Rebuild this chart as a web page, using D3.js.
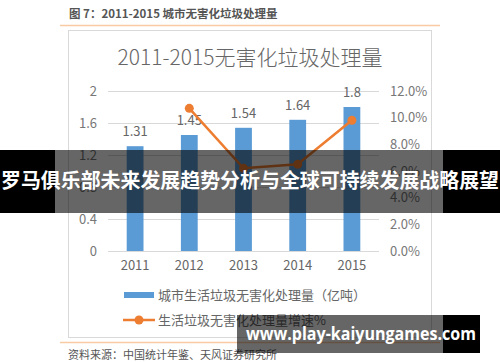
<!DOCTYPE html>
<html><head><meta charset="utf-8">
<script src="https://cdn.jsdelivr.net/npm/d3@7"></script>
<style>body{margin:0;background:#fff}svg{display:block}</style>
</head><body>
<svg id="c" width="500" height="362"></svg>
<script>
const years = ["2011","2012","2013","2014","2015"];
const amount = [1.31, 1.45, 1.54, 1.64, 1.8];
const growth = [null, 10.7, 6.2, 6.5, 9.8];
const leftTicks = [0, 0.4, 0.8, 1.2, 1.6, 2];
const rightTicks = [0, 2, 4, 6, 8, 10, 12];
const header = "图 7：2011-2015 城市无害化垃圾处理量";
const title = "2011-2015无害化垃圾处理量";
const legendNames = ["城市生活垃圾无害化处理量（亿吨）", "生活垃圾无害化处理量增速%"];
const source = "资料来源：中国统计年鉴、天风证券研究所";
const banner = "罗马俱乐部未来发展趋势分析与全球可持续发展战略展望";
const watermark = "www.play-kaiyungames.com";

const svg = d3.select("#c");
const font = "'Noto Sans CJK SC','Noto Sans',sans-serif";
const txt = "#595959";

svg.append("text").attr("x",69).attr("y",18).attr("font-family",font).attr("font-size",11.5)
  .attr("font-weight","bold").attr("fill","#555").text(header);
svg.append("line").attr("x1",60).attr("x2",440).attr("y1",25.5).attr("y2",25.5).attr("stroke","#f9cba3").attr("stroke-width",1.5);
svg.append("rect").attr("x",68.5).attr("y",30.5).attr("width",363).attr("height",307).attr("fill","#fff").attr("stroke","#d9d9d9");
svg.append("line").attr("x1",60).attr("x2",440).attr("y1",342.5).attr("y2",342.5).attr("stroke","#f9cba3").attr("stroke-width",1.5);
svg.append("text").attr("x",68).attr("y",359).attr("font-family",font).attr("font-size",11).attr("fill","#555").text(source);

svg.append("text").attr("x",250).attr("y",65).attr("text-anchor","middle").attr("font-family",font)
  .attr("font-size",21).attr("font-weight",300).attr("fill","#666").text(title);

const x = d3.scaleBand().domain(years).range([108,379]).paddingInner(0.69).paddingOuter(0.345);
const y = d3.scaleLinear().domain([0,2]).range([251,91]);
const y2 = d3.scaleLinear().domain([0,12]).range([251,91]);

const g = svg.append("g");
g.selectAll(".grid").data(leftTicks).join("line")
  .attr("x1",108).attr("x2",379).attr("y1",d=>Math.round(y(d))+0.5).attr("y2",d=>Math.round(y(d))+0.5)
  .attr("stroke","#d9d9d9");

const la = d3.axisLeft(y).tickValues(leftTicks).tickSize(0).tickPadding(11).tickFormat(d3.format("~g"));
g.append("g").attr("transform","translate(108,0)").call(la)
  .call(s=>s.select(".domain").remove())
  .selectAll("text").attr("font-family",font).attr("font-size",13).attr("fill","#777");

const ra = d3.axisRight(y2).tickValues(rightTicks).tickSize(0).tickPadding(11).tickFormat(d=>d.toFixed(1)+"%");
g.append("g").attr("transform","translate(379,0)").call(ra)
  .call(s=>s.select(".domain").remove())
  .selectAll("text").attr("font-family",font).attr("font-size",13).attr("fill","#777");

const ba = d3.axisBottom(x).tickSize(0).tickPadding(10);
g.append("g").attr("transform","translate(0,251)").call(ba)
  .call(s=>s.select(".domain").remove())
  .selectAll("text").attr("font-family",font).attr("font-size",13).attr("fill","#666");

g.selectAll(".bar").data(amount).join("rect")
  .attr("x",(d,i)=>x(years[i])).attr("width",x.bandwidth())
  .attr("y",d=>y(d)).attr("height",d=>y(0)-y(d)).attr("fill","#5b9bd5");
g.selectAll(".lbl").data(amount).join("text")
  .attr("x",(d,i)=>x(years[i])+x.bandwidth()/2).attr("y",d=>y(d)-10)
  .attr("text-anchor","middle").attr("font-family",font).attr("font-size",13).attr("fill","#666")
  .text(d=>d);

const pts = growth.map((v,i)=>({v,i})).filter(d=>d.v!=null);
const line = d3.line().x(d=>x(years[d.i])+x.bandwidth()/2).y(d=>y2(d.v));
g.append("path").datum(pts).attr("d",line).attr("fill","none").attr("stroke","#ed7d31").attr("stroke-width",2.5);
g.selectAll(".pt").data(pts).join("circle")
  .attr("cx",d=>x(years[d.i])+x.bandwidth()/2).attr("cy",d=>y2(d.v)).attr("r",4.5).attr("fill","#ed7d31");

// legend
svg.append("rect").attr("x",124).attr("y",292).attr("width",30).attr("height",6).attr("fill","#5b9bd5");
svg.append("text").attr("x",158).attr("y",300).attr("font-family",font).attr("font-size",13).attr("fill","#666").text(legendNames[0]);
svg.append("line").attr("x1",123).attr("x2",155).attr("y1",320).attr("y2",320).attr("stroke","#ed7d31").attr("stroke-width",2.5);
svg.append("circle").attr("cx",139).attr("cy",320).attr("r",4.5).attr("fill","#ed7d31");
svg.append("text").attr("x",158).attr("y",325).attr("font-family",font).attr("font-size",13).attr("fill","#666").text(legendNames[1]);

// banner overlay
svg.append("rect").attr("x",0).attr("y",150).attr("width",55).attr("height",63).attr("fill","#000");
svg.append("rect").attr("x",443).attr("y",150).attr("width",57).attr("height",63).attr("fill","#000");
svg.append("rect").attr("x",55).attr("y",150).attr("width",388).attr("height",63).attr("fill","#000").attr("fill-opacity",0.6);
svg.append("text").attr("x",1).attr("y",188).attr("font-family",font)
  .attr("font-size",20).attr("font-weight","bold").attr("fill","#fff")
  .attr("textLength",498).attr("lengthAdjust","spacingAndGlyphs").text(banner);

// watermark
svg.append("rect").attr("x",237).attr("y",315).attr("width",206).attr("height",38).attr("fill","#000").attr("fill-opacity",0.6);
svg.append("rect").attr("x",443).attr("y",315).attr("width",37).attr("height",38).attr("fill","#000");
svg.append("text").attr("x",246).attr("y",340).attr("font-family","'Open Sans','DejaVu Sans',sans-serif")
  .attr("font-size",17).attr("font-weight","bold").attr("fill","#fff")
  .attr("textLength",230).attr("lengthAdjust","spacingAndGlyphs").text(watermark);
</script>
</body></html>
